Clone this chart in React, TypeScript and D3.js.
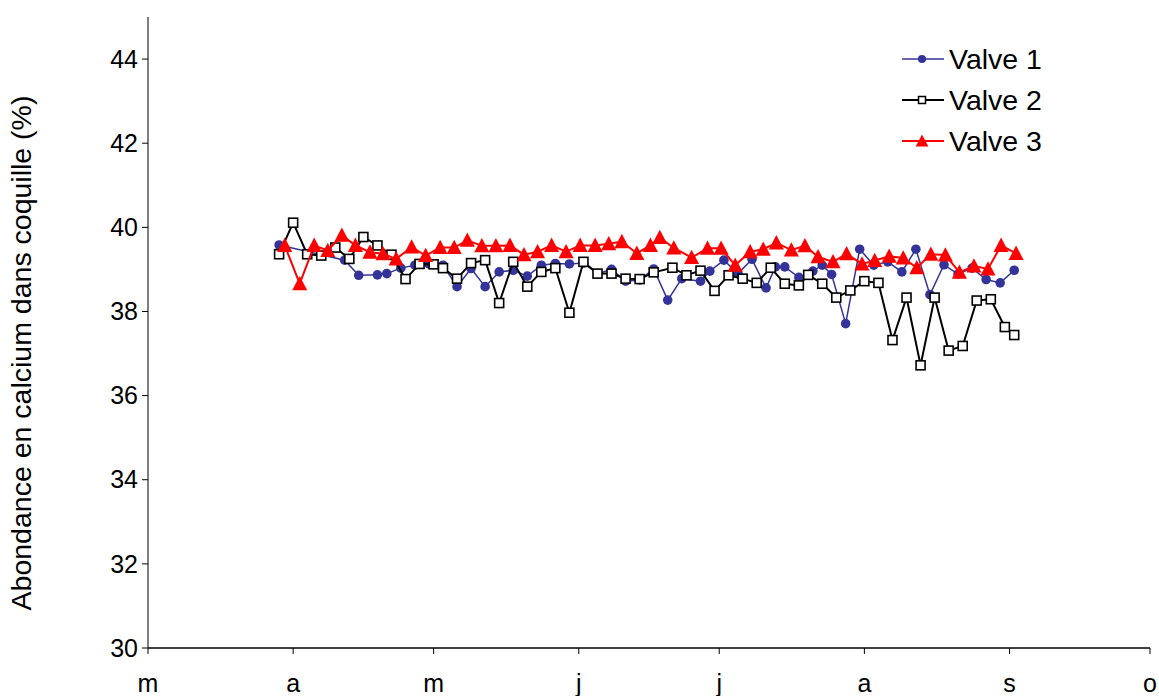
import React from 'react';
import * as d3 from 'd3';

// x: days since 1 March
const monthLabels = ['m', 'a', 'm', 'j', 'j', 'a', 's', 'o'];
const yTicks = [30, 32, 34, 36, 38, 40, 42, 44];
const seriesNames = ['Valve 1', 'Valve 2', 'Valve 3'];

const daysV1 = [28, 42, 45, 49, 51, 54, 57, 60, 63, 66, 69, 72, 75, 78, 81, 84, 87, 90, 93, 96, 99, 102, 105, 108, 111, 114, 118, 120, 123, 126, 129, 132, 134, 136, 139, 142, 144, 146, 149, 152, 155, 158, 161, 164, 167, 170, 173, 176, 179, 182, 185];
const valuesV1 = [39.58, 39.22, 38.86, 38.87, 38.9, 39.03, 39.1, 39.13, 39.1, 38.59, 39.02, 38.59, 38.94, 38.98, 38.84, 39.1, 39.14, 39.13, 39.15, 38.9, 39.0, 38.72, 38.75, 39.01, 38.27, 38.78, 38.72, 38.96, 39.22, 38.9, 39.24, 38.56, 39.06, 39.06, 38.81, 38.96, 39.1, 38.88, 37.71, 39.48, 39.1, 39.18, 38.94, 39.48, 38.4, 39.11, 38.89, 39.03, 38.76, 38.68, 38.98];

const daysV2 = [28, 31, 34, 37, 40, 43, 46, 49, 52, 55, 58, 61, 63, 66, 69, 72, 75, 78, 81, 84, 87, 90, 93, 96, 99, 102, 105, 108, 112, 115, 118, 121, 124, 127, 130, 133, 136, 139, 141, 144, 147, 150, 153, 156, 159, 162, 165, 168, 171, 174, 177, 180, 183, 185];
const valuesV2 = [39.36, 40.11, 39.36, 39.33, 39.52, 39.25, 39.77, 39.57, 39.35, 38.77, 39.13, 39.12, 39.03, 38.78, 39.15, 39.22, 38.2, 39.18, 38.59, 38.94, 39.03, 37.97, 39.18, 38.9, 38.9, 38.78, 38.77, 38.93, 39.04, 38.86, 38.97, 38.49, 38.86, 38.78, 38.68, 39.04, 38.66, 38.62, 38.87, 38.66, 38.33, 38.5, 38.72, 38.68, 37.32, 38.33, 36.72, 38.33, 37.07, 37.18, 38.26, 38.29, 37.63, 37.44];

const daysV3 = [29.2, 32.4, 35.5, 38.4, 41.4, 44.3, 47.4, 50.2, 53, 56.3, 59.3, 62.4, 65.4, 68.2, 71.3, 74.3, 77.3, 80.3, 83.2, 86.2, 89.3, 92.3, 95.5, 98.4, 101.2, 104.4, 107.3, 109.3, 112.3, 116.1, 119.5, 122.4, 125.4, 128.6, 131.4, 134.2, 137.4, 140.3, 143.1, 146.3, 149.2, 152.5, 155.2, 158.3, 161.3, 164.2, 167.2, 170.3, 173.3, 176.4, 179.4, 182.2, 185.4];
const valuesV3 = [39.57, 38.66, 39.57, 39.45, 39.81, 39.57, 39.41, 39.37, 39.25, 39.53, 39.33, 39.52, 39.52, 39.69, 39.56, 39.56, 39.57, 39.35, 39.42, 39.57, 39.42, 39.57, 39.57, 39.61, 39.66, 39.38, 39.57, 39.76, 39.51, 39.28, 39.5, 39.5, 39.1, 39.42, 39.48, 39.63, 39.46, 39.56, 39.3, 39.18, 39.37, 39.13, 39.21, 39.31, 39.27, 39.04, 39.36, 39.34, 38.93, 39.08, 39.01, 39.57, 39.38];

const W = 1159;
const H = 696;
const M = { left: 148, right: 1150, top: 17, bottom: 648 };
const FONT = 'Liberation Sans, Arial, sans-serif';
const BLUE = '#333399';
const RED = '#ff0000';

const start = Date.UTC(2007, 2, 1);
const toDate = (d: number) => new Date(start + d * 86400000);

export default function App() {
  const x = d3.scaleUtc().domain([new Date(Date.UTC(2007, 2, 1)), new Date(Date.UTC(2007, 9, 1))]).range([M.left, M.right]);
  const y = d3.scaleLinear().domain([30, 45]).range([M.bottom, M.top]);
  const monthTicks = x.ticks(d3.utcMonth.every(1) as any);

  const mk = (days: number[], vals: number[]) => days.map((d, i) => ({ x: x(toDate(d)), y: y(vals[i]) }));
  const s1 = mk(daysV1, valuesV1);
  const s2 = mk(daysV2, valuesV2);
  const s3 = mk(daysV3, valuesV3);
  const line = d3.line<{ x: number; y: number }>().x(p => p.x).y(p => p.y);
  const tri = (cx: number, cy: number, s: number) =>
    `M${cx},${cy - s * 0.6}L${cx + s * 0.58},${cy + s * 0.5}L${cx - s * 0.58},${cy + s * 0.5}Z`;

  const legendY = [59, 100, 141];

  return (
    <svg width={W} height={H} style={{ position: 'absolute', left: 0, top: 0, background: '#fff' }} fontFamily={FONT}>
      <rect x={0} y={0} width={W} height={H} fill="#fff" />
      {/* axes */}
      <line x1={M.left} x2={M.left} y1={M.top} y2={M.bottom} stroke="#000" strokeWidth={1} />
      <line x1={M.left} x2={M.right} y1={M.bottom} y2={M.bottom} stroke="#000" strokeWidth={1.5} />
      {yTicks.map(t => (
        <g key={'y' + t}>
          <line x1={M.left - 6} x2={M.left} y1={y(t)} y2={y(t)} stroke="#000" />
          <text x={M.left - 10} y={y(t)} dy="0.35em" textAnchor="end" fontSize={25}>{t}</text>
        </g>
      ))}
      {monthTicks.map((t, i) => (
        <g key={'x' + i}>
          <line x1={x(t)} x2={x(t)} y1={M.bottom} y2={M.bottom + 6} stroke="#000" />
          <text x={x(t)} y={692} textAnchor="middle" fontSize={25}>{monthLabels[i]}</text>
        </g>
      ))}
      <text transform={`translate(31,353) rotate(-90)`} textAnchor="middle" fontSize={28.5}>
        Abondance en calcium dans coquille (%)
      </text>

      {/* Valve 1 */}
      <path d={line(s1) || ''} fill="none" stroke={BLUE} strokeWidth={1.5} />
      {s1.map((p, i) => <circle key={'c' + i} cx={p.x} cy={p.y} r={4.8} fill={BLUE} />)}
      {/* Valve 2 */}
      <path d={line(s2) || ''} fill="none" stroke="#000" strokeWidth={2} />
      {s2.map((p, i) => <rect key={'s' + i} x={p.x - 4.5} y={p.y - 4.5} width={9} height={9} fill="#fff" stroke="#000" strokeWidth={1.6} />)}
      {/* Valve 3 */}
      <path d={line(s3) || ''} fill="none" stroke={RED} strokeWidth={2} />
      {s3.map((p, i) => <path key={'t' + i} d={tri(p.x, p.y, 13)} fill={RED} />)}

      {/* legend */}
      {seriesNames.map((n, i) => {
        const ly = legendY[i];
        const col = i === 0 ? BLUE : i === 1 ? '#000' : RED;
        return (
          <g key={n}>
            <line x1={902} x2={944} y1={ly} y2={ly} stroke={col} strokeWidth={i === 0 ? 1.5 : 2} />
            {i === 0 && <circle cx={922} cy={ly} r={4} fill={BLUE} />}
            {i === 1 && <rect x={918.5} y={ly - 3.5} width={7} height={7} fill="#fff" stroke="#000" strokeWidth={1.5} />}
            {i === 2 && <path d={tri(922, ly, 11)} fill={RED} />}
            <text x={949} y={ly} dy="0.35em" fontSize={28.5}>{n}</text>
          </g>
        );
      })}
    </svg>
  );
}
